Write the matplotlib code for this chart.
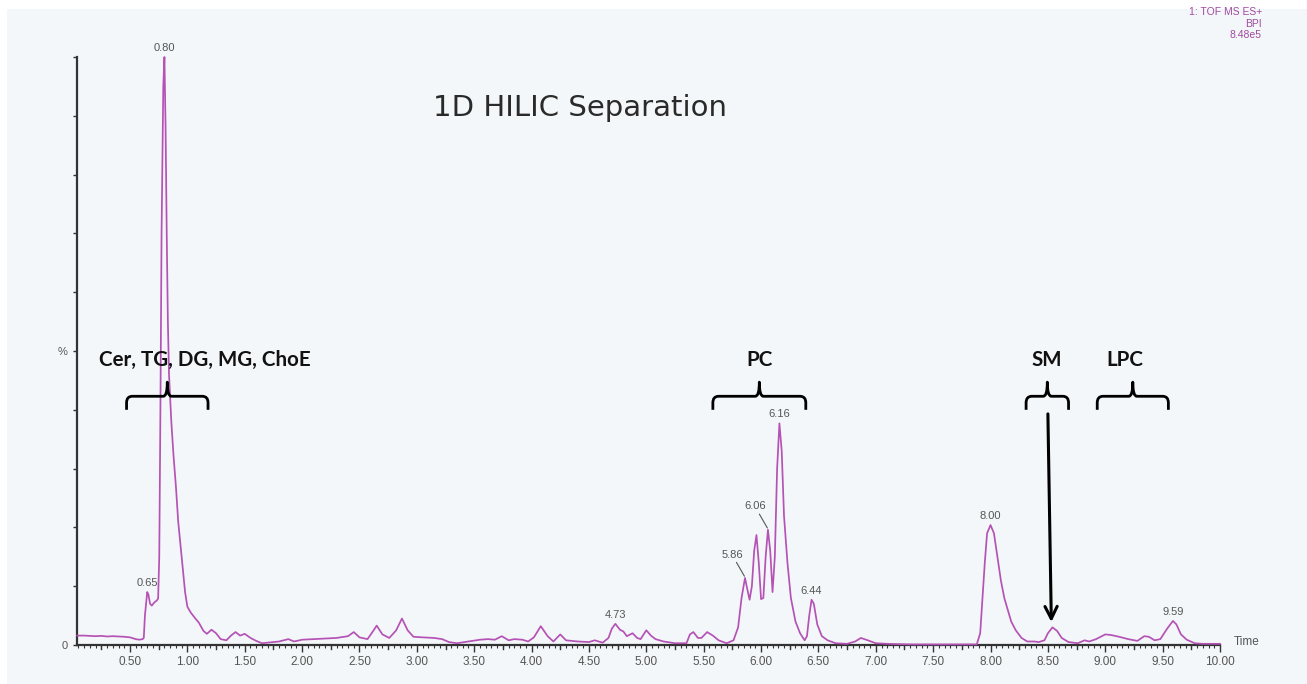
import matplotlib
matplotlib.use("Agg")
import matplotlib.pyplot as plt
from matplotlib.path import Path
from matplotlib.patches import PathPatch, Rectangle
from matplotlib.ticker import MultipleLocator, FixedLocator, FormatStrFormatter

# Base peak intensity chromatogram (% of 8.48e5) vs retention time (min)
time_min = [
    0.04, 0.10, 0.15, 0.20, 0.25, 0.30, 0.35, 0.40, 0.45, 0.50, 0.55, 0.58, 0.61, 0.62,
    0.63, 0.65, 0.66, 0.675, 0.69, 0.71, 0.735, 0.745, 0.755, 0.765, 0.775, 0.79, 0.80,
    0.81, 0.82, 0.83, 0.84, 0.86, 0.88, 0.90, 0.92, 0.94, 0.96, 0.98, 1.00, 1.03, 1.07,
    1.10, 1.14, 1.17, 1.21, 1.25, 1.29, 1.34, 1.38, 1.42, 1.46, 1.50, 1.55, 1.60, 1.65,
    1.70, 1.80, 1.88, 1.93, 2.00, 2.10, 2.20, 2.30, 2.40, 2.45, 2.50, 2.57, 2.62, 2.65,
    2.70, 2.76, 2.82, 2.87, 2.92, 2.97, 3.05, 3.15, 3.22, 3.28, 3.35, 3.45, 3.55, 3.62,
    3.68, 3.74, 3.80, 3.85, 3.92, 3.97, 4.02, 4.08, 4.14, 4.19, 4.25, 4.30, 4.40, 4.50,
    4.55, 4.62, 4.67, 4.70, 4.73, 4.77, 4.80, 4.83, 4.88, 4.92, 4.95, 5.00, 5.04, 5.08,
    5.15, 5.25, 5.35, 5.38, 5.41, 5.45, 5.48, 5.53, 5.58, 5.63, 5.70, 5.76, 5.80, 5.83,
    5.86, 5.88, 5.90, 5.92, 5.94, 5.96, 5.98, 6.00, 6.02, 6.04, 6.06, 6.08, 6.10, 6.12,
    6.14, 6.16, 6.18, 6.20, 6.23, 6.26, 6.30, 6.34, 6.38, 6.40, 6.42, 6.44, 6.46, 6.49,
    6.53, 6.58, 6.65, 6.75, 6.82, 6.87, 6.93, 7.00, 7.10, 7.30, 7.50, 7.70, 7.88, 7.91,
    7.93, 7.95, 7.97, 8.00, 8.03, 8.06, 8.09, 8.12, 8.15, 8.18, 8.22, 8.27, 8.32, 8.38,
    8.42, 8.47, 8.50, 8.54, 8.58, 8.62, 8.68, 8.76, 8.82, 8.86, 8.92, 9.00, 9.05, 9.12,
    9.20, 9.28, 9.34, 9.38, 9.43, 9.48, 9.54, 9.59, 9.62, 9.66, 9.71, 9.78, 9.85, 9.95,
    10.00,
]
intensity_pct = [
    1.6, 1.6, 1.55, 1.5, 1.55, 1.45, 1.5, 1.45, 1.4, 1.3, 1.0, 0.9, 1.0, 1.2,
    5.0, 9.0, 8.6, 7.0, 6.7, 7.2, 7.6, 7.9, 15.0, 40.0, 70.0, 95.0, 100.0,
    88.0, 70.0, 55.0, 46.0, 38.0, 32.0, 27.0, 21.0, 17.0, 13.0, 9.0, 6.5, 5.5, 4.5,
    3.8, 2.4, 1.9, 2.6, 2.0, 1.0, 0.8, 1.6, 2.2, 1.6, 1.9, 1.2, 0.7, 0.3,
    0.4, 0.6, 1.0, 0.6, 0.9, 1.0, 1.1, 1.2, 1.5, 2.2, 1.3, 1.0, 2.4, 3.3,
    1.8, 1.2, 2.5, 4.5, 2.5, 1.4, 1.3, 1.2, 1.0, 0.5, 0.3, 0.6, 0.9, 1.0,
    0.9, 1.5, 0.8, 1.0, 0.9, 0.6, 1.3, 3.2, 1.5, 0.6, 1.8, 0.8, 0.6, 0.5,
    0.8, 0.4, 1.2, 2.8, 3.6, 2.6, 2.3, 1.5, 2.0, 1.2, 1.0, 2.5, 1.6, 1.0,
    0.6, 0.3, 0.3, 1.8, 2.2, 1.2, 1.2, 2.2, 1.6, 0.8, 0.3, 0.8, 3.0, 8.0,
    11.4, 9.5, 7.7, 10.0, 16.0, 18.7, 14.0, 7.8, 8.0, 15.0, 19.6, 16.0, 9.0, 15.0,
    30.0, 37.7, 33.0, 22.0, 14.0, 8.0, 4.0, 2.0, 0.8, 1.5, 5.0, 7.7, 7.0, 3.5,
    1.5, 0.8, 0.3, 0.2, 0.6, 1.2, 0.8, 0.3, 0.2, 0.1, 0.1, 0.1, 0.1, 2.0,
    8.0, 14.0, 19.0, 20.4, 19.0, 15.0, 11.0, 8.0, 6.0, 4.0, 2.5, 1.2, 0.6, 0.6,
    0.5, 0.8, 2.0, 3.0, 2.4, 1.2, 0.5, 0.3, 0.8, 0.6, 1.0, 1.8, 1.7, 1.4,
    1.0, 0.7, 1.5, 1.4, 0.8, 1.0, 2.8, 4.1, 3.5, 1.8, 0.9, 0.3, 0.2, 0.2,
    0.2,
]

# Retention times annotated on the trace
labelled_peaks = [0.65, 0.80, 4.73, 5.86, 6.06, 6.16, 6.44, 8.00, 9.59]

# Lipid class groups: label, bracket start/end (min), label centre (min)
class_names = ["Cer, TG, DG, MG, ChoE", "PC", "SM", "LPC"]
bracket_start = [0.47, 5.58, 8.31, 8.93]
bracket_end = [1.18, 6.39, 8.68, 9.55]
label_center = [1.155, 5.99, 8.49, 9.17]

LINE = "#b552b5"
GREY = "#555555"
BG = "#f3f7f9"

W, H = 1307, 684
fig = plt.figure(figsize=(W / 100, H / 100), dpi=100, facecolor="white")
fig.patches.append(Rectangle((7 / W, 0), 1, 1 - 9 / H, transform=fig.transFigure,
                             facecolor=BG, edgecolor="none", zorder=-10))

ax = fig.add_axes([77 / W, 39 / H, (1220 - 77) / W, (645 - 57) / H])
ax.set_facecolor("none")
ax.set_xlim(0.038, 10.0)
ax.set_ylim(0, 100)

ax.plot(time_min, intensity_pct, color=LINE, lw=1.25, clip_on=False, zorder=3)

for s in ("top", "right"):
    ax.spines[s].set_visible(False)
for s in ("left", "bottom"):
    ax.spines[s].set_color("#333333")
    ax.spines[s].set_linewidth(1.6)

# y axis: ticks every 10 %, only 0 and % labelled
ax.yaxis.set_major_locator(FixedLocator(list(range(0, 101, 10))))
ax.set_yticklabels(["0", "", "", "", "", "%", "", "", "", "", ""])
ax.tick_params(axis="y", direction="out", length=3, width=1, color="#333333",
               labelsize=8, labelcolor=GREY, pad=4)
for lab in ax.get_yticklabels():
    lab.set_fontfamily("Liberation Sans")

# x axis: labelled every 0.5 min, intermediate ticks at 0.25 and 0.05
ax.xaxis.set_major_locator(MultipleLocator(0.5))
ax.xaxis.set_minor_locator(MultipleLocator(0.05))
ax.xaxis.set_major_formatter(FormatStrFormatter("%.2f"))
ax.tick_params(axis="x", which="major", direction="out", length=5, width=1,
               color="#333333", labelsize=8.5, labelcolor=GREY, pad=3)
ax.tick_params(axis="x", which="minor", direction="out", length=2.5, width=0.8,
               color="#333333")
for lab in ax.get_xticklabels():
    lab.set_fontfamily("Liberation Sans")
for q in [0.25 + 0.5 * k for k in range(20)]:
    ax.plot([q, q], [0, -0.65], color="#333333", lw=1, clip_on=False)

ax.text(1.012, 0.005, "Time", transform=ax.transAxes, fontsize=8.5,
        color=GREY, family="Liberation Sans", ha="left", va="center")

# Peak retention-time labels
lookup = dict(zip(time_min, intensity_pct))
for t in labelled_peaks:
    h = lookup[t]
    if t in (5.86, 6.06):
        ax.annotate(f"{t:.2f}", xy=(t - 0.005, h + 0.3), xytext=(-9, 12),
                    textcoords="offset points", ha="center", va="bottom",
                    fontsize=8, color=GREY, family="Liberation Sans",
                    arrowprops=dict(arrowstyle="-", color=GREY, lw=0.8,
                                    shrinkA=0, shrinkB=0))
    else:
        ax.annotate(f"{t:.2f}", xy=(t, h), xytext=(0, 3),
                    textcoords="offset points", ha="center", va="bottom",
                    fontsize=8, color=GREY, family="Liberation Sans",
                    annotation_clip=False)

# Instrument trace header
fig.text(1262 / W, 1 - 7 / H, "1: TOF MS ES+\nBPI\n8.48e5", ha="right", va="top",
         fontsize=7.5, color="#a04aa0", family="Liberation Sans", linespacing=1.2)

ax.text(4.42, 91.3, "1D HILIC Separation", ha="center", va="center",
        fontsize=21, family="DejaVu Sans", color="#2a2a2a")


def brace(x0, x1, y_end=40.0, y_bar=42.3, y_tip=44.7):
    xc = (x0 + x1) / 2
    rx, ry = 0.05, 1.1
    tx = 0.035
    verts = [
        (x0, y_end), (x0, y_bar - ry),
        (x0, y_bar), (x0 + rx, y_bar),
        (xc - tx, y_bar),
        (xc, y_bar), (xc, y_tip),
        (xc, y_bar), (xc + tx, y_bar),
        (x1 - rx, y_bar),
        (x1, y_bar), (x1, y_bar - ry),
        (x1, y_end),
    ]
    codes = [Path.MOVETO, Path.LINETO,
             Path.CURVE3, Path.CURVE3,
             Path.LINETO,
             Path.CURVE3, Path.CURVE3,
             Path.CURVE3, Path.CURVE3,
             Path.LINETO,
             Path.CURVE3, Path.CURVE3,
             Path.LINETO]
    ax.add_patch(PathPatch(Path(verts, codes), fill=False, edgecolor="black",
                           lw=2.0, capstyle="butt", joinstyle="round", zorder=4))


for name, a, b, c in zip(class_names, bracket_start, bracket_end, label_center):
    brace(a, b)
    ax.text(c, 48.5, name, ha="center", va="center", fontsize=14.8,
            fontweight="bold", family="Lato", color="#111111")

# Arrow pointing from the SM bracket down to its peak
ax.annotate("", xy=(8.53, 3.9), xytext=(8.50, 39.3),
            arrowprops=dict(arrowstyle="->", lw=2.2, color="black",
                            mutation_scale=22, shrinkA=0, shrinkB=0))

fig.savefig("out.png", dpi=100, facecolor=fig.get_facecolor())
